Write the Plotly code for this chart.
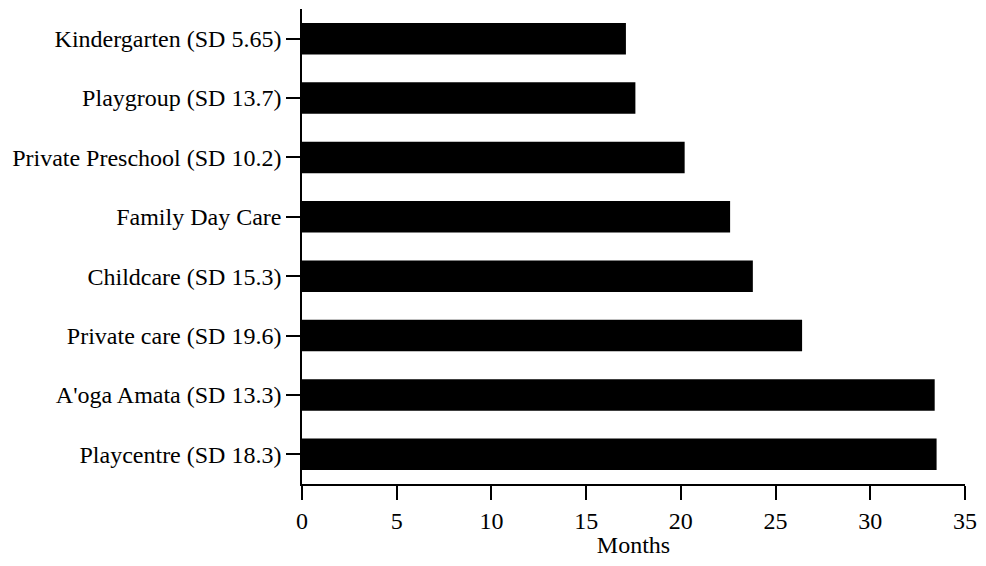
import plotly.graph_objects as go

categories = [
    "Kindergarten (SD 5.65)",
    "Playgroup (SD 13.7)",
    "Private Preschool (SD 10.2)",
    "Family Day Care",
    "Childcare (SD 15.3)",
    "Private care (SD 19.6)",
    "A'oga Amata (SD 13.3)",
    "Playcentre (SD 18.3)",
]
months = [17.1, 17.6, 20.2, 22.6, 23.8, 26.4, 33.4, 33.5]
x_ticks = [0, 5, 10, 15, 20, 25, 30, 35]

font_family = "Liberation Serif, Times New Roman, serif"
fsize = 24

fig = go.Figure(
    go.Bar(
        x=months,
        y=categories,
        orientation="h",
        marker=dict(color="black", line=dict(width=0)),
        width=0.53,
    )
)

# page body has an 8px margin, so the figure is made smaller and offsets compensated
fig.update_layout(
    width=978,
    height=550,
    margin=dict(l=294, r=21, t=1, b=74),
    paper_bgcolor="white",
    plot_bgcolor="white",
    showlegend=False,
    font=dict(family=font_family, size=fsize, color="black"),
)

fig.update_xaxes(
    range=[0, 35],
    tickvals=x_ticks,
    ticktext=[str(v) for v in x_ticks],
    showgrid=False,
    zeroline=False,
    showline=True,
    linecolor="black",
    linewidth=1.5,
    ticks="outside",
    ticklen=14,
    tickwidth=1.5,
    tickcolor="black",
    automargin=False,
    tickfont=dict(family=font_family, size=fsize, color="black"),
    title=dict(text="Months", font=dict(family=font_family, size=fsize, color="black"), standoff=8),
)

fig.update_yaxes(
    categoryorder="array",
    categoryarray=categories,
    autorange="reversed",
    showgrid=False,
    zeroline=False,
    showline=True,
    linecolor="black",
    linewidth=1.5,
    ticks="outside",
    ticklen=14,
    tickwidth=1.5,
    tickcolor="black",
    automargin=False,
    tickfont=dict(family=font_family, size=fsize, color="black"),
)

fig.write_html("out.html")
